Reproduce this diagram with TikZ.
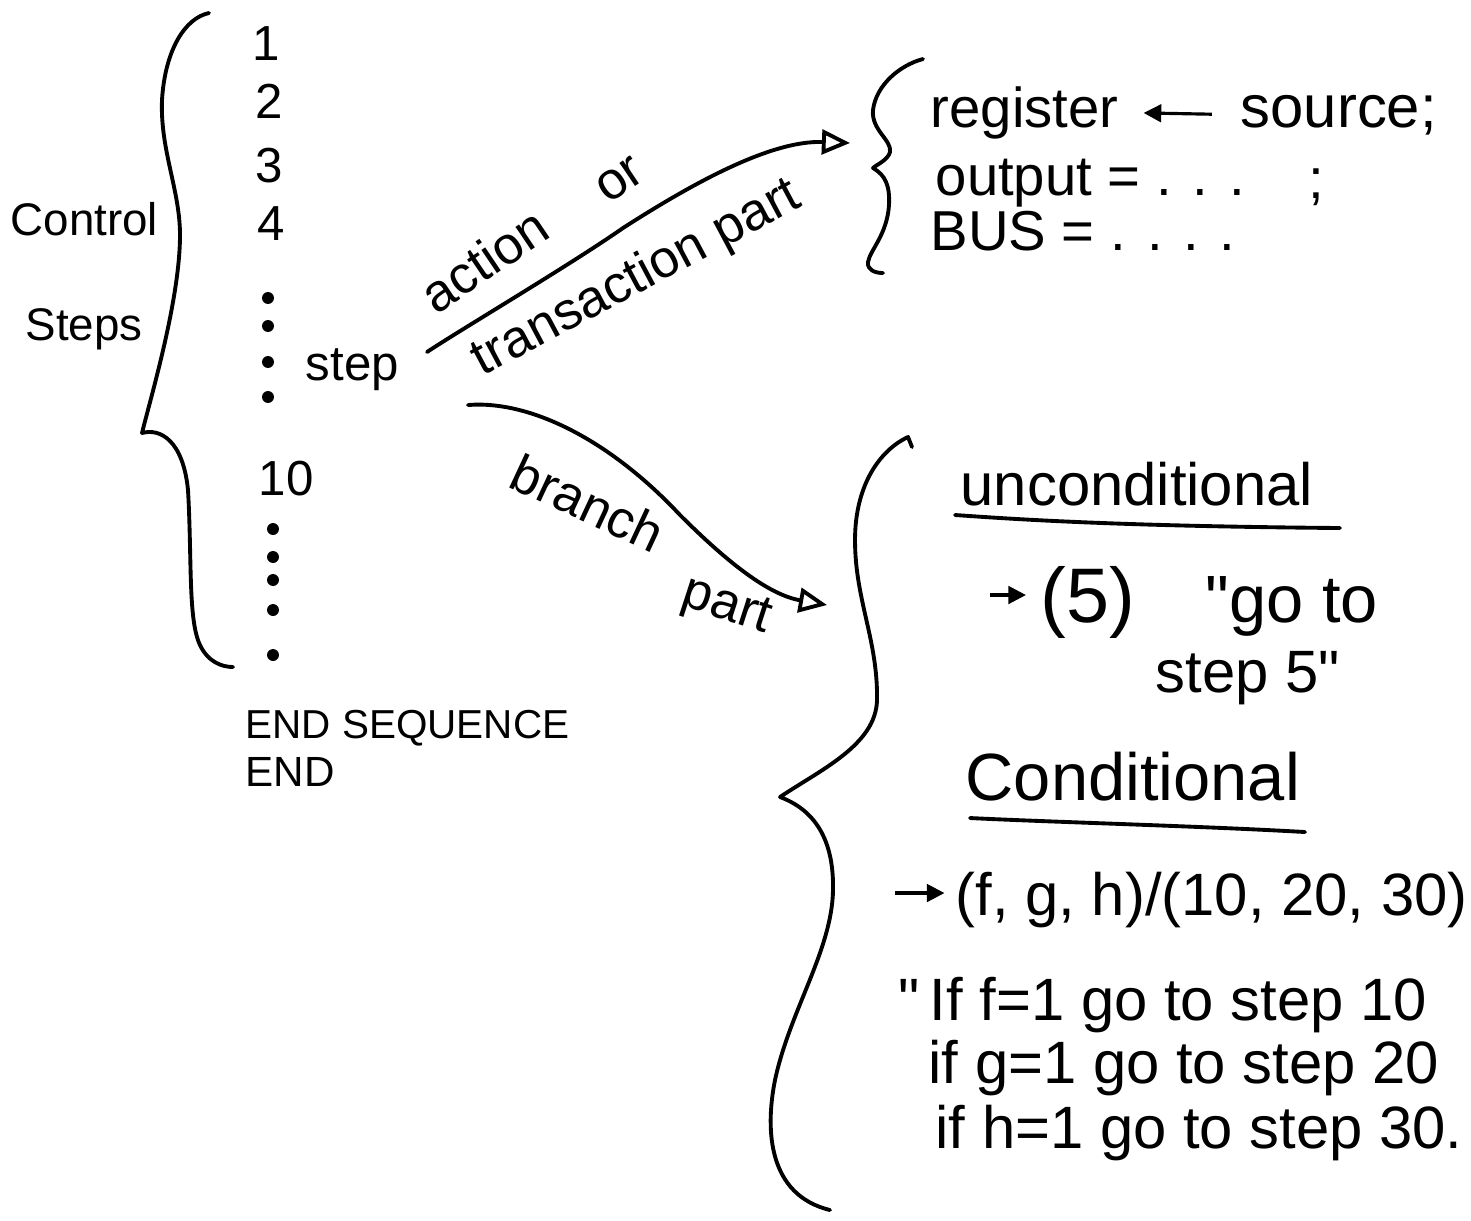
\documentclass[tikz,border=0pt]{standalone}
\usepackage{fontspec}
\setmainfont{Liberation Sans}
\usetikzlibrary{arrows.meta}
\newcommand{\hw}[1]{\fontsize{#1}{#1}\selectfont}

\begin{document}
\begin{tikzpicture}[x=0.01cm, y=-0.01cm,
  pen/.style={line width=1.1pt, line cap=round, line join=round},
  conn/.style={pen, -{Triangle[open, length=8pt, width=7pt]}},
  small/.style={line width=0.9pt, -{Triangle[length=5pt, width=5pt]}},
  txt/.style={inner sep=0pt, anchor=base west}]
\useasboundingbox (0,0) rectangle (1471,1220);

% left part: the list of control steps
\node[txt, font=\hw{13}] (control) at (10,235) {Control};
\node[txt, font=\hw{13}] (steps) at (25,340) {Steps};
\draw[pen] (209,13) .. controls (185,18) and (165,50) .. (162,100)
  .. controls (160,150) and (180,190) .. (180,235)
  .. controls (180,300) and (150,400) .. (142,433)
  .. controls (160,428) and (183,440) .. (188,490)
  .. controls (192,560) and (188,620) .. (200,645)
  .. controls (208,662) and (222,667) .. (233,667);
\foreach \x/\y/\n in {252/60/1, 255/118/2, 255/182/3, 257/240/4} {
  \node[txt, font=\hw{14}] (n\n) at (\x,\y) {\n};
}
\node[txt, font=\hw{14}] (n10) at (258,495) {10};
\foreach \y in {298,326,362,397} \fill (268,\y) circle (1.7pt);
\foreach \y in {529,557,580,610,655} \fill (273,\y) circle (1.7pt);
\node[txt, font=\hw{14}] (step) at (305,380) {step};
\node[txt, font=\hw{11.5}] (endseq) at (245,738) {END SEQUENCE};
\node[txt, font=\hw{12}] (end) at (245,786) {END};

% action or transaction part
\coordinate (actfrom) at (427,352);
\coordinate (actto) at (850,143);
\draw[conn] (actfrom) .. controls (460,330) and (570,265) .. (623,228)
  .. controls (690,185) and (770,140) .. (actto);
\node[font=\hw{15}, rotate=34, inner sep=0pt] (action) at (484,260) {action};
\node[font=\hw{15}, rotate=34, inner sep=0pt] (or) at (620,180) {or};
\node[font=\hw{15}, rotate=28, inner sep=0pt] (trans) at (637,279) {transaction part};

% branch part
\coordinate (brfrom) at (468,405);
\coordinate (brto) at (827,605);
\draw[conn] (brfrom) .. controls (530,400) and (610,440) .. (680,515)
  .. controls (730,565) and (770,595) .. (brto);
\node[font=\hw{15}, rotate=-25, inner sep=0pt] (branch) at (588,503) {branch};
\node[font=\hw{15}, rotate=-18, inner sep=0pt] (part) at (726,608) {part};

% top right: transactions
\draw[pen] (923,59) .. controls (900,65) and (876,85) .. (873,110)
  .. controls (871,130) and (892,140) .. (890,152)
  .. controls (888,160) and (876,165) .. (873,168)
  .. controls (885,175) and (890,185) .. (889,205)
  .. controls (887,235) and (870,250) .. (868,262)
  .. controls (867,270) and (875,273) .. (883,273);
\node[txt, font=\hw{16}] (register) at (930,127) {register};
\node[txt, font=\hw{17}] (source) at (1240,127) {source;};
\draw[small, shorten <=8pt, shorten >=7pt] (source.west) -- (register.east);
\node[txt, font=\hw{16}] (output) at (935,195) {output = . . .};
\node[txt, font=\hw{16}] (semi) at (1308,198) {;};
\node[txt, font=\hw{16}] (bus) at (930,250) {BUS = . . . .};

% bottom right: branches
\draw[pen] (912,447) -- (908,437)
  .. controls (880,450) and (855,485) .. (855,540)
  .. controls (855,600) and (878,640) .. (877,700)
  .. controls (876,745) and (820,770) .. (780,797)
  .. controls (815,810) and (834,840) .. (833,890)
  .. controls (832,950) and (790,1010) .. (775,1080)
  .. controls (765,1130) and (768,1195) .. (830,1210);
\node[txt, font=\hw{17}] (uncond) at (960,505) {unconditional};
\draw[pen] (955,515) .. controls (1000,518) and (1100,526) .. (1340,528);
\coordinate (ufrom) at (990,595);
\node[txt, font=\hw{22}] (five) at (1040,622) {(5)};
\draw[small, shorten >=4pt] (ufrom) -- (five.west |- ufrom);
\node[txt, font=\hw{19}] (goto) at (1205,622) {\textquotedbl go to};
\node[txt, font=\hw{17}] (step5) at (1155,692) {step 5\textquotedbl};
\node[txt, font=\hw{19}] (cond) at (965,800) {Conditional};
\draw[pen] (970,818) .. controls (1050,822) and (1200,826) .. (1305,832);
\coordinate (cfrom) at (895,893);
\node[txt, font=\hw{17}] (fgh) at (955,915) {(f, g, h)/(10, 20, 30)};
\draw[small, shorten >=3pt] (cfrom) -- (fgh.west |- cfrom);
\node[txt, font=\hw{17}] (iff) at (898,1020) {\textquotedbl\,If f=1 go to step 10};
\node[txt, font=\hw{17}] (ifg) at (928,1083) {if g=1 go to step 20};
\node[txt, font=\hw{17}] (ifh) at (935,1148) {if h=1 go to step 30.};
\end{tikzpicture}
\end{document}
